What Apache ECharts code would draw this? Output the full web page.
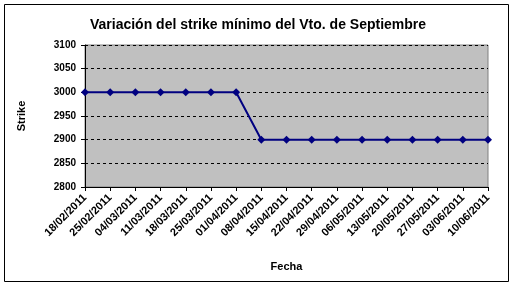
<!DOCTYPE html>
<html><head><meta charset="utf-8">
<script src="https://cdn.jsdelivr.net/npm/echarts@6/dist/echarts.min.js"></script>
<style>html,body{margin:0;padding:0;background:#fff}#c{width:516px;height:286px}</style>
</head><body><div id="c"></div>
<script>
const categories = ['18/02/2011','25/02/2011','04/03/2011','11/03/2011','18/03/2011','25/03/2011','01/04/2011','08/04/2011','15/04/2011','22/04/2011','29/04/2011','06/05/2011','13/05/2011','20/05/2011','27/05/2011','03/06/2011','10/06/2011'];
const strikeValues = [3000,3000,3000,3000,3000,3000,3000,2900,2900,2900,2900,2900,2900,2900,2900,2900,2900];
const yTicks = {min: 2800, max: 3100, interval: 50};
const F = 'Liberation Sans, Arial, sans-serif';
const chart = echarts.init(document.getElementById('c'));
chart.setOption({
  animation: false,
  title: {text: 'Variación del strike mínimo del Vto. de Septiembre', left: 'center', top: 13,
    textStyle: {fontFamily: F, fontSize: 14, fontWeight: 'bold', color: '#000'}},
  graphic: [{type: 'rect', shape: {x: 4.5, y: 4.5, width: 504, height: 277}, style: {fill: null, stroke: '#000', lineWidth: 1}, z: -1}],
  grid: {left: 85, right: 28, top: 45, bottom: 99, show: true, backgroundColor: '#C0C0C0', borderColor: '#808080', borderWidth: 1},
  xAxis: {type: 'category', data: categories, boundaryGap: false,
    name: 'Fecha', nameLocation: 'middle', nameGap: 74,
    nameTextStyle: {fontFamily: F, fontSize: 11, fontWeight: 'bold', color: '#000'},
    axisLine: {lineStyle: {color: '#000'}},
    axisTick: {show: true, alignWithLabel: true, length: 4, lineStyle: {color: '#000'}},
    axisLabel: {rotate: 45, interval: 0, fontFamily: F, fontSize: 11, fontWeight: 'bold', color: '#000', margin: 9},
    splitLine: {show: false}},
  yAxis: {type: 'value', min: yTicks.min, max: yTicks.max, interval: yTicks.interval,
    name: 'Strike', nameLocation: 'middle', nameGap: 58, nameRotate: 90,
    nameTextStyle: {fontFamily: F, fontSize: 11, fontWeight: 'bold', color: '#000'},
    axisLine: {show: true, lineStyle: {color: '#000'}},
    axisTick: {show: true, length: 4, lineStyle: {color: '#000'}},
    axisLabel: {fontFamily: F, fontSize: 10, fontWeight: 'bold', color: '#000', margin: 9, formatter: v => String(v)},
    splitLine: {show: true, lineStyle: {color: '#000', type: [3, 3], width: 1}}},
  series: [{type: 'line', data: strikeValues, symbol: 'diamond', symbolSize: 8,
    lineStyle: {color: '#000080', width: 2}, itemStyle: {color: '#000080'}}]
});
</script></body></html>
